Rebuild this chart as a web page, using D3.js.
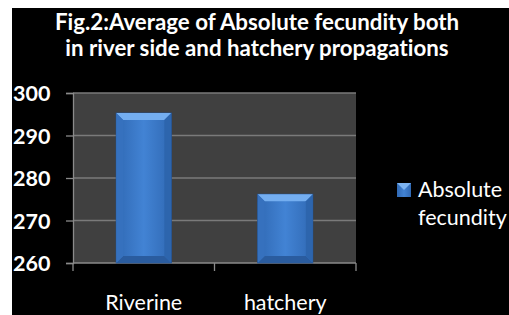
<!DOCTYPE html>
<html>
<head>
  <script src="https://cdnjs.cloudflare.com/ajax/libs/d3/7.8.5/d3.min.js"></script>
  <style>
    body { margin: 0; background: #fff; }
    text { font-family: Lato, "Open Sans", sans-serif; fill: #fff; font-variant-ligatures: none; }
  </style>
</head>
<body>
  <script>
    var categories = ["Riverine", "hatchery"];
    var values = [295.3, 276.2];
    var yTicks = [260, 270, 280, 290, 300];
    var seriesName = ["Absolute", "fecundity"];
    var titleLines = ["Fig.2:Average of Absolute fecundity both",
                      "in river side and hatchery propagations"];

    var width = 509, height = 315;
    var plot = { left: 73, right: 356, top: 93, bottom: 263 };

    var svg = d3.select("body").append("svg")
      .attr("width", width)
      .attr("height", height);

    var defs = svg.append("defs");
    var g1 = defs.append("linearGradient").attr("id", "barFill")
      .attr("x1", 0).attr("x2", 1).attr("y1", 0).attr("y2", 0);
    g1.append("stop").attr("offset", "0%").attr("stop-color", "#3069b4");
    g1.append("stop").attr("offset", "50%").attr("stop-color", "#4283d4");
    g1.append("stop").attr("offset", "100%").attr("stop-color", "#3069b4");

    // black chart area, white margin on left and top
    svg.append("rect")
      .attr("x", 12).attr("y", 8)
      .attr("width", width - 12).attr("height", height - 8)
      .attr("fill", "#000");

    var x = d3.scaleBand()
      .domain(categories)
      .range([plot.left, plot.right])
      .paddingInner(0.61)
      .paddingOuter(0.305);

    var y = d3.scaleLinear()
      .domain([260, 300])
      .range([plot.bottom, plot.top]);

    svg.append("rect")
      .attr("x", plot.left).attr("y", plot.top)
      .attr("width", plot.right - plot.left)
      .attr("height", plot.bottom - plot.top)
      .attr("fill", "#404040");

    svg.selectAll("line.grid")
      .data(yTicks.slice(1))
      .enter().append("line")
      .attr("class", "grid")
      .attr("x1", plot.left).attr("x2", plot.right)
      .attr("y1", function(d) { return y(d); })
      .attr("y2", function(d) { return y(d); })
      .attr("stroke", "#7a7a7a")
      .attr("stroke-width", 1.3);

    // y axis
    var yAxis = svg.append("g")
      .attr("transform", "translate(" + plot.left + ",0)")
      .call(d3.axisLeft(y).tickValues(yTicks).tickSize(7).tickPadding(16));
    yAxis.select(".domain").attr("stroke", "#8a8a8a").attr("stroke-width", 1.3);
    yAxis.selectAll(".tick line").attr("stroke", "#8a8a8a").attr("stroke-width", 1.3);
    yAxis.selectAll(".tick text")
      .attr("fill", "#fff")
      .style("font-size", "21.5px")
      .style("font-weight", "bold")
      .attr("dy", "0.36em")
      .attr("text-anchor", "start")
      .attr("x", 13 - plot.left);

    // x axis line and ticks
    var bottom = svg.append("g");
    bottom.append("line")
      .attr("x1", plot.left).attr("x2", plot.right)
      .attr("y1", plot.bottom).attr("y2", plot.bottom)
      .attr("stroke", "#8a8a8a").attr("stroke-width", 1.3);
    var tickXs = [plot.left].concat(categories.slice(1).map(function(c) {
      return x(c) - x.step() * x.paddingInner() / 2;
    })).concat([plot.right]);
    bottom.selectAll("line.xt")
      .data(tickXs)
      .enter().append("line")
      .attr("class", "xt")
      .attr("x1", function(d) { return d; })
      .attr("x2", function(d) { return d; })
      .attr("y1", plot.bottom).attr("y2", plot.bottom + 8)
      .attr("stroke", "#8a8a8a").attr("stroke-width", 1.3);

    svg.selectAll("text.cat")
      .data(categories)
      .enter().append("text")
      .attr("class", "cat")
      .attr("x", function(d) { return x(d) + x.bandwidth() / 2; })
      .attr("y", 310)
      .attr("text-anchor", "middle")
      .style("font-size", "21.5px")
      .text(function(d) { return d; });

    // bars with bevel
    var bars = svg.selectAll("g.bar")
      .data(categories.map(function(c, i) { return { cat: c, v: values[i] }; }))
      .enter().append("g")
      .attr("class", "bar");

    var bev = 7;
    bars.append("rect")
      .attr("x", function(d) { return x(d.cat); })
      .attr("y", function(d) { return y(d.v); })
      .attr("width", x.bandwidth())
      .attr("height", function(d) { return y(260) - y(d.v); })
      .attr("fill", "url(#barFill)")
      .attr("stroke", "#234f8a")
      .attr("stroke-width", 0.8);

    function pts(arr) { return arr.map(function(p) { return p.join(","); }).join(" "); }

    bars.append("polygon")
      .attr("points", function(d) {
        var x0 = x(d.cat), x1 = x0 + x.bandwidth(), y0 = y(d.v);
        return pts([[x0, y0], [x1, y0], [x1 - bev, y0 + bev], [x0 + bev, y0 + bev]]);
      })
      .attr("fill", "#74aef0");
    bars.append("polygon")
      .attr("points", function(d) {
        var x0 = x(d.cat), x1 = x0 + x.bandwidth(), y1 = y(260);
        return pts([[x0, y1], [x1, y1], [x1 - bev, y1 - bev], [x0 + bev, y1 - bev]]);
      })
      .attr("fill", "#2a5c9f");
    bars.append("polygon")
      .attr("points", function(d) {
        var x0 = x(d.cat), y0 = y(d.v), y1 = y(260);
        return pts([[x0, y0], [x0 + bev, y0 + bev], [x0 + bev, y1 - bev], [x0, y1]]);
      })
      .attr("fill", "#3671be");
    bars.append("polygon")
      .attr("points", function(d) {
        var x1 = x(d.cat) + x.bandwidth(), y0 = y(d.v), y1 = y(260);
        return pts([[x1, y0], [x1 - bev, y0 + bev], [x1 - bev, y1 - bev], [x1, y1]]);
      })
      .attr("fill", "#2d65ad");

    // legend
    var leg = svg.append("g");
    leg.append("rect")
      .attr("x", 397).attr("y", 183).attr("width", 14).attr("height", 14)
      .attr("fill", "url(#barFill)");
    leg.append("polygon")
      .attr("points", "397,183 411,183 404,190")
      .attr("fill", "#7db4f2");
    leg.selectAll("text")
      .data(seriesName)
      .enter().append("text")
      .attr("x", 418)
      .attr("y", function(d, i) { return 197 + i * 28; })
      .style("font-size", "21.5px")
      .text(function(d) { return d; });

    // title
    svg.selectAll("text.title")
      .data(titleLines)
      .enter().append("text")
      .attr("class", "title")
      .attr("x", 257)
      .attr("y", function(d, i) { return 30 + i * 26; })
      .attr("text-anchor", "middle")
      .style("font-size", "22.3px")
      .style("font-weight", "bold")
      .text(function(d) { return d; });
  </script>
</body>
</html>
